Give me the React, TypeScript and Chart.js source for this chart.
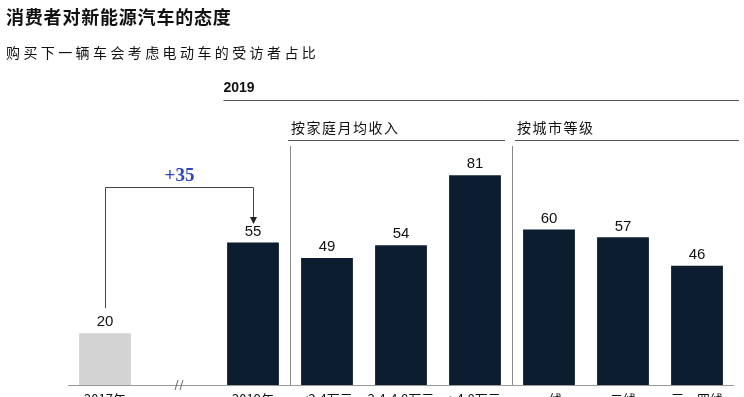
import React, { useEffect, useRef } from "react";
import { Chart, registerables } from "chart.js";

Chart.register(...registerables);

const categories = ["2017年", "", "2019年", "<2.4万元", "2.4-4.8万元", ">4.8万元", "一线", "二线", "三、四线"];
const values: (number | null)[] = [20, null, 55, 49, 54, 81, 60, 57, 46];
const title = "消费者对新能源汽车的态度";
const subtitle = "购买下一辆车会考虑电动车的受访者占比";
const yearHeader = "2019";
const groupHeaders = ["按家庭月均收入", "按城市等级"];
const changeLabel = "+35";

const NAVY = "#0b1d2e";
const GRAY_BAR = "#d3d3d3";
const LINE = "#555555";
const CJK = '"Noto Sans CJK SC", "Noto Sans", sans-serif';
const SANS = '"Liberation Sans", Arial, sans-serif';

const overlay = {
  id: "overlay",
  afterDatasetsDraw(chart: any) {
    const ctx = chart.ctx as CanvasRenderingContext2D;
    const x = chart.scales.x;
    const y = chart.scales.y;
    const area = chart.chartArea;
    const cx = (i: number) => x.getPixelForValue(i);
    const slot = cx(1) - cx(0);
    ctx.save();

    // titles
    ctx.fillStyle = "#111";
    ctx.textBaseline = "middle";
    ctx.textAlign = "left";
    ctx.font = `bold 18px ${CJK}`;
    (ctx as any).letterSpacing = "0.8px";
    ctx.fillText(title, 6, 17);
    ctx.font = `14px ${CJK}`;
    (ctx as any).letterSpacing = "3.4px";
    ctx.fillText(subtitle, 6, 53);
    (ctx as any).letterSpacing = "0px";

    // 2019 header
    const left2019 = cx(2) - slot * 0.4;
    ctx.font = `bold 14px ${SANS}`;
    ctx.fillText(yearHeader, left2019, 88);
    ctx.strokeStyle = LINE;
    ctx.lineWidth = 1;
    ctx.beginPath();
    ctx.moveTo(left2019, 100.5);
    ctx.lineTo(area.right + 5, 100.5);
    ctx.stroke();

    // group headers
    const b1 = (cx(2) + cx(3)) / 2;
    const b2 = (cx(5) + cx(6)) / 2;
    ctx.font = `14px ${CJK}`;
    (ctx as any).letterSpacing = "1.5px";
    ctx.fillText(groupHeaders[0], Math.round(b1) + 1, 128);
    ctx.fillText(groupHeaders[1], Math.round(b2) + 5, 128);
    (ctx as any).letterSpacing = "0px";
    ctx.beginPath();
    ctx.moveTo(b1 - 2, 140.5);
    ctx.lineTo(b2 - 7, 140.5);
    ctx.moveTo(b2 + 3, 140.5);
    ctx.lineTo(area.right + 5, 140.5);
    ctx.stroke();
    ctx.strokeStyle = "#888";
    ctx.beginPath();
    ctx.moveTo(Math.round(b1) + 0.5, 146);
    ctx.lineTo(Math.round(b1) + 0.5, area.bottom);
    ctx.moveTo(Math.round(b2) + 0.5, 146);
    ctx.lineTo(Math.round(b2) + 0.5, area.bottom);
    ctx.stroke();

    // baseline
    ctx.strokeStyle = "#999";
    ctx.beginPath();
    ctx.moveTo(area.left, area.bottom + 0.5);
    ctx.lineTo(area.right, area.bottom + 0.5);
    ctx.stroke();

    // break mark
    const bx = cx(1);
    ctx.strokeStyle = "#666";
    ctx.beginPath();
    ctx.moveTo(bx - 4, area.bottom + 5);
    ctx.lineTo(bx - 1, area.bottom - 5);
    ctx.moveTo(bx + 1, area.bottom + 5);
    ctx.lineTo(bx + 4, area.bottom - 5);
    ctx.stroke();

    // value labels
    ctx.fillStyle = "#111";
    ctx.textAlign = "center";
    ctx.font = `15px ${SANS}`;
    values.forEach((v, i) => {
      if (v == null) return;
      ctx.fillText(String(v), cx(i), y.getPixelForValue(v) - 11);
    });

    // x labels
    ctx.font = `13px ${CJK}`;
    ctx.textBaseline = "top";
    categories.forEach((c, i) => {
      if (!c) return;
      ctx.fillText(c, cx(i), area.bottom + 8);
    });

    // bracket arrow
    const yTop = 187.5;
    const xa = Math.round(cx(0)) + 0.5;
    const xb = Math.round(cx(2)) + 0.5;
    ctx.strokeStyle = "#444";
    ctx.beginPath();
    ctx.moveTo(xa, y.getPixelForValue(values[0] as number) - 25);
    ctx.lineTo(xa, yTop);
    ctx.lineTo(xb, yTop);
    ctx.lineTo(xb, 218);
    ctx.stroke();
    ctx.fillStyle = "#222";
    ctx.beginPath();
    ctx.moveTo(xb - 3.5, 217);
    ctx.lineTo(xb + 3.5, 217);
    ctx.lineTo(xb, 224);
    ctx.closePath();
    ctx.fill();

    ctx.fillStyle = "#2f48b8";
    ctx.font = `bold 19px "Liberation Serif", "DejaVu Serif", serif`;
    ctx.textBaseline = "middle";
    ctx.fillText(changeLabel, (xa + xb) / 2, 176);

    ctx.restore();
  },
};

export default function App() {
  const ref = useRef<HTMLCanvasElement>(null);
  useEffect(() => {
    if (!ref.current) return;
    const chart = new Chart(ref.current, {
      type: "bar",
      data: {
        labels: categories,
        datasets: [
          {
            data: values,
            backgroundColor: values.map((_, i) => (i === 0 ? GRAY_BAR : NAVY)),
            barPercentage: 0.7,
            categoryPercentage: 1.0,
          },
        ],
      },
      options: {
        responsive: false,
        animation: false,
        devicePixelRatio: 1,
        layout: { padding: { left: 68, right: 10, top: 126, bottom: 35 } },
        plugins: { legend: { display: false }, tooltip: { enabled: false }, title: { display: false } },
        scales: {
          x: { display: false },
          y: { display: false, min: 0, max: 100 },
        },
      },
      plugins: [overlay],
    });
    return () => chart.destroy();
  }, []);
  return (
    <div style={{ position: "fixed", left: 0, top: 0, width: 744, height: 397, overflow: "hidden", background: "#fff" }}>
      <canvas ref={ref} width={744} height={420} style={{ display: "block" }} />
    </div>
  );
}
